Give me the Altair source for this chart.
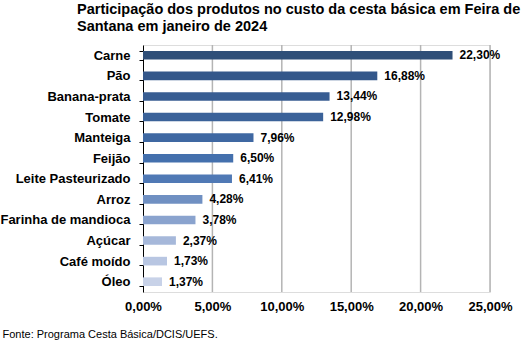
import altair as alt
import pandas as pd

produtos = ["Carne", "Pão", "Banana-prata", "Tomate", "Manteiga", "Feijão",
            "Leite Pasteurizado", "Arroz", "Farinha de mandioca", "Açúcar",
            "Café moído", "Óleo"]
valores = [22.30, 16.88, 13.44, 12.98, 7.96, 6.50, 6.41, 4.28, 3.78, 2.37, 1.73, 1.37]
cores = ["#2F4F78", "#34578A", "#385D92", "#3B6299", "#3F68A2", "#4470AD",
         "#5079B5", "#7090C2", "#8AA3CE", "#A6B8DA", "#B8C6E2", "#C8D2E8"]
x_ticks = [0, 5, 10, 15, 20, 25]
grid_vals = [5, 10, 15, 20, 25]

df = pd.DataFrame({"produto": produtos, "valor": valores, "cor": cores})
df_grid = pd.DataFrame({"valor": grid_vals})

FONT = "Liberation Sans"

y_enc = alt.Y("produto:N", sort=produtos,
              scale=alt.Scale(paddingInner=0.58, paddingOuter=0.29),
              axis=alt.Axis(title=None, tickBand="extent", tickSize=4,
                            tickColor="black", domainColor="black",
                            labelFont=FONT, labelFontSize=13, labelFontWeight="bold",
                            labelColor="black", labelPadding=9, grid=False))

x_enc = alt.X("valor:Q", scale=alt.Scale(domain=[0, 25], nice=False),
              axis=alt.Axis(values=x_ticks, domain=False, ticks=False, grid=False,
                            labelFlush=False, labelOverlap=False,
                            labelExpr="replace(format(datum.value, '.2f'), '.', ',') + '%'",
                            labelFont=FONT, labelFontSize=13, labelFontWeight="bold",
                            labelColor="black", labelPadding=8,
                            title="Fonte: Programa Cesta Básica/DCIS/UEFS.",
                            titleFont=FONT, titleFontSize=11, titleFontWeight="normal",
                            titleColor="black", titleAnchor="start", titleAlign="left",
                            titleX=-141, titleY=45, titleBaseline="alphabetic"))

grid = alt.Chart(df_grid).mark_rule(color="#B4B4B4", strokeWidth=1.5).encode(
    x=x_enc, y=alt.value(0), y2=alt.value(247))

base = alt.Chart(df)

bars = base.mark_bar().encode(
    y=y_enc, x=x_enc,
    color=alt.Color("cor:N", scale=None),
)

labels = base.transform_calculate(
    rotulo="replace(format(datum.valor, '.2f'), '.', ',') + '%'"
).mark_text(align="left", baseline="middle", dx=7, font=FONT, fontSize=12,
            fontWeight="bold", color="black").encode(
    y=y_enc, x=x_enc,
    text="rotulo:N",
)

chart = alt.layer(grid, bars, labels).properties(
    width=347, height=247,
    title=alt.TitleParams(
        text=["Participação dos produtos no custo da cesta básica em Feira de",
              "Santana em janeiro de 2024"],
        anchor="start", frame="group", font=FONT, fontSize=14.5, fontWeight="bold",
        color="black", lineHeight=17, dx=-66, offset=5),
    autosize=alt.AutoSizeParams(type="none"),
    padding={"left": 143, "top": 45, "right": 31, "bottom": 53},
).configure_view(stroke=None).configure(background="white")

chart.save("out.html", embed_options={"renderer": "svg", "actions": False})
